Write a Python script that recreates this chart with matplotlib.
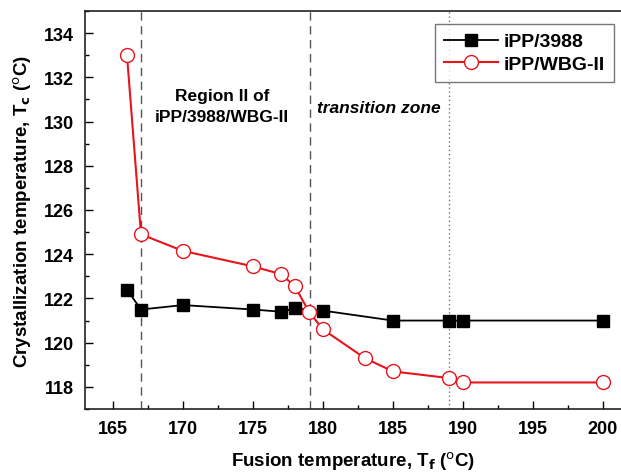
import numpy as np
import matplotlib
matplotlib.use('Agg')
import matplotlib.pyplot as plt
from matplotlib.ticker import MultipleLocator

plt.rcParams['font.family'] = ['Liberation Sans', 'DejaVu Sans']
plt.rcParams['mathtext.default'] = 'regular'

# data
tf_3988 = [166, 167, 170, 175, 177, 178, 180, 185, 189, 190, 200]
tc_3988 = [122.4, 121.5, 121.7, 121.5, 121.4, 121.55, 121.45, 121.0, 121.0, 121.0, 121.0]
tf_wbg = [166, 167, 170, 175, 177, 178, 179, 180, 183, 185, 189, 190, 200]
tc_wbg = [133.0, 124.9, 124.15, 123.45, 123.1, 122.55, 121.4, 120.6, 119.3, 118.7, 118.4, 118.2, 118.2]
dash_lines = [167, 179.1]
dot_line = 189

fig = plt.figure(figsize=(6.21, 4.77), dpi=100)
ax = fig.add_axes([85/621, 1 - 410/477, 536/621, 398/477])

for x in dash_lines:
    ax.axvline(x, color='#555555', lw=1.0, ls=(0, (6, 4)), zorder=1)
ax.axvline(dot_line, color='#777777', lw=1.0, ls=(0, (1, 2)), zorder=1)

ax.plot(tf_3988, tc_3988, '-s', color='black', lw=1.3, ms=8.5,
        mfc='black', mec='black', label='iPP/3988', zorder=3)
ax.plot(tf_wbg, tc_wbg, '-o', color='#e8141c', lw=1.5, ms=10,
        mfc='white', mec='#e8141c', mew=1.0, label='iPP/WBG-II', zorder=4)

ax.set_xlim(163, 201.3)
ax.set_ylim(117, 135)
ax.xaxis.set_major_locator(MultipleLocator(5))
ax.xaxis.set_minor_locator(MultipleLocator(2.5))
ax.yaxis.set_major_locator(MultipleLocator(2))
ax.yaxis.set_minor_locator(MultipleLocator(1))
ax.tick_params(which='both', direction='in', top=False, right=False, width=1.0)
ax.tick_params(which='major', length=6, labelsize=13, pad=8)
ax.tick_params(which='minor', length=3)
for lab in ax.get_xticklabels() + ax.get_yticklabels():
    lab.set_fontweight('bold')
for s in ax.spines.values():
    s.set_linewidth(1.2)
    s.set_color('#222222')
ax.spines['right'].set_visible(False)

ax.set_xlabel(r'Fusion temperature, T$_\mathbf{f}$ ($^\mathsf{o}$C)',
              fontsize=13.5, fontweight='bold', labelpad=9)
ax.set_ylabel(r'Crystallization temperature, T$_\mathbf{c}$ ($^\mathsf{o}$C)',
              fontsize=13.5, fontweight='bold', labelpad=7)

ax.text(172.8, 130.7, 'Region II of\niPP/3988/WBG-II', ha='center', va='center',
        fontsize=12.5, fontweight='bold', linespacing=1.45)
ax.text(184.0, 130.65, 'transition zone', ha='center', va='center',
        fontsize=12.5, fontweight='bold', style='italic')

leg = ax.legend(loc='upper right', bbox_to_anchor=(0.987, 0.967), borderaxespad=0,
                prop={'weight': 'bold', 'size': 14}, fancybox=False,
                edgecolor='#555555', handlelength=2.8, handletextpad=0.3,
                borderpad=0.45, labelspacing=0.25)
leg.get_frame().set_linewidth(1.0)

fig.savefig('out.png', dpi=100)
